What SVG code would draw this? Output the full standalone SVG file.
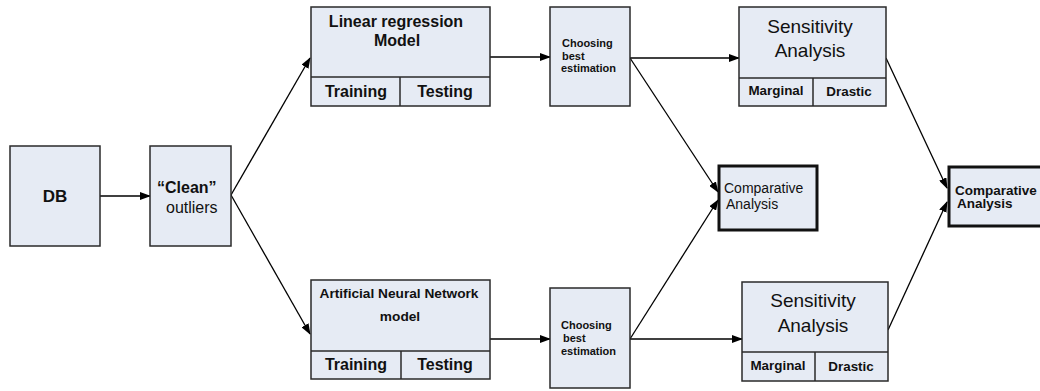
<svg xmlns="http://www.w3.org/2000/svg" width="1040" height="391" viewBox="0 0 1040 391">
<defs>
<marker id="ah" markerWidth="11" markerHeight="8" refX="10" refY="4" orient="auto" markerUnits="userSpaceOnUse">
<path d="M0,0 L11,4 L0,8 Z" fill="#000"/>
</marker>
<style>
.box{fill:#e6ebf4;stroke:#2a2a2a;stroke-width:1.5}
.thick{fill:#e6ebf4;stroke:#111;stroke-width:3}
.div{stroke:#2a2a2a;stroke-width:1.5;fill:none}
.c{stroke:#000;stroke-width:1.3;fill:none;marker-end:url(#ah)}
text{font-family:"Liberation Sans",Arial,sans-serif;fill:#111}
.b{font-weight:bold}
</style>
</defs>
<g id="connectors">
<line class="c" x1="100" y1="196" x2="150" y2="196"/>
<line class="c" x1="231" y1="195" x2="310" y2="58"/>
<line class="c" x1="231" y1="195" x2="310" y2="334"/>
<line class="c" x1="490" y1="57" x2="550" y2="57"/>
<line class="c" x1="490" y1="339" x2="550" y2="339"/>
<line class="c" x1="630" y1="58" x2="739" y2="58"/>
<line class="c" x1="630" y1="339" x2="742" y2="339"/>
<line class="c" x1="630" y1="58" x2="718" y2="192"/>
<line class="c" x1="630" y1="339" x2="718" y2="200"/>
<line class="c" x1="886" y1="58" x2="947" y2="188"/>
<line class="c" x1="888" y1="330" x2="947" y2="202"/>
</g>
<g id="db">
<rect class="box" x="10" y="146" width="90" height="100"/>
<text class="b" x="55" y="202" font-size="17" text-anchor="middle">DB</text>
</g>
<g id="clean">
<rect class="box" x="150" y="146" width="81" height="100"/>
<text class="b" x="157" y="193" font-size="16">“Clean”</text>
<text x="166" y="213" font-size="16">outliers</text>
</g>
<g id="linear">
<rect class="box" x="311" y="7" width="179" height="99"/>
<line class="div" x1="311" y1="77" x2="490" y2="77"/>
<line class="div" x1="400" y1="77" x2="400" y2="106"/>
<text class="b" x="396" y="27" font-size="16" text-anchor="middle">Linear regression</text>
<text class="b" x="397" y="46" font-size="16" text-anchor="middle">Model</text>
<text class="b" x="356" y="97" font-size="16" text-anchor="middle">Training</text>
<text class="b" x="445" y="97" font-size="16" text-anchor="middle">Testing</text>
</g>
<g id="ann">
<rect class="box" x="311" y="280" width="179" height="99"/>
<line class="div" x1="311" y1="351" x2="490" y2="351"/>
<line class="div" x1="401" y1="351" x2="401" y2="379"/>
<text class="b" x="399" y="298" font-size="13.7" text-anchor="middle">Artificial Neural Network</text>
<text class="b" x="400" y="321" font-size="13.7" text-anchor="middle">model</text>
<text class="b" x="356" y="370" font-size="16" text-anchor="middle">Training</text>
<text class="b" x="445" y="370" font-size="16" text-anchor="middle">Testing</text>
</g>
<g id="choose-top">
<rect class="box" x="550" y="7" width="80" height="99"/>
<text class="b" font-size="11"><tspan x="562" y="47">Choosing</tspan><tspan x="562" y="60">best</tspan><tspan x="561" y="72">estimation</tspan></text>
</g>
<g id="choose-bottom">
<rect class="box" x="550" y="288" width="80" height="100"/>
<text class="b" font-size="11"><tspan x="561" y="329">Choosing</tspan><tspan x="563" y="342">best</tspan><tspan x="561" y="355">estimation</tspan></text>
</g>
<g id="comparative-mid">
<rect class="thick" x="719" y="166" width="98" height="64"/>
<text font-size="14"><tspan x="724" y="193">Comparative</tspan><tspan x="726" y="209">Analysis</tspan></text>
</g>
<g id="sens-top">
<rect class="box" x="739" y="7" width="147" height="99"/>
<line class="div" x1="739" y1="78" x2="886" y2="78"/>
<line class="div" x1="813" y1="78" x2="813" y2="106"/>
<text x="810" y="33" font-size="19" text-anchor="middle">Sensitivity</text>
<text x="810" y="57" font-size="19" text-anchor="middle">Analysis</text>
<text class="b" x="776" y="95" font-size="13.4" text-anchor="middle">Marginal</text>
<text class="b" x="849" y="96" font-size="13.4" text-anchor="middle">Drastic</text>
</g>
<g id="sens-bottom">
<rect class="box" x="742" y="282" width="146" height="99"/>
<line class="div" x1="742" y1="352" x2="888" y2="352"/>
<line class="div" x1="815" y1="352" x2="815" y2="381"/>
<text x="813" y="307" font-size="19" text-anchor="middle">Sensitivity</text>
<text x="813" y="332" font-size="19" text-anchor="middle">Analysis</text>
<text class="b" x="778" y="370" font-size="13.4" text-anchor="middle">Marginal</text>
<text class="b" x="851" y="371" font-size="13.4" text-anchor="middle">Drastic</text>
</g>
<g id="comparative-right">
<rect class="thick" x="949" y="167" width="100" height="59"/>
<text class="b" font-size="13.5"><tspan x="955" y="195">Comparative</tspan><tspan x="957" y="208">Analysis</tspan></text>
</g>
</svg>
